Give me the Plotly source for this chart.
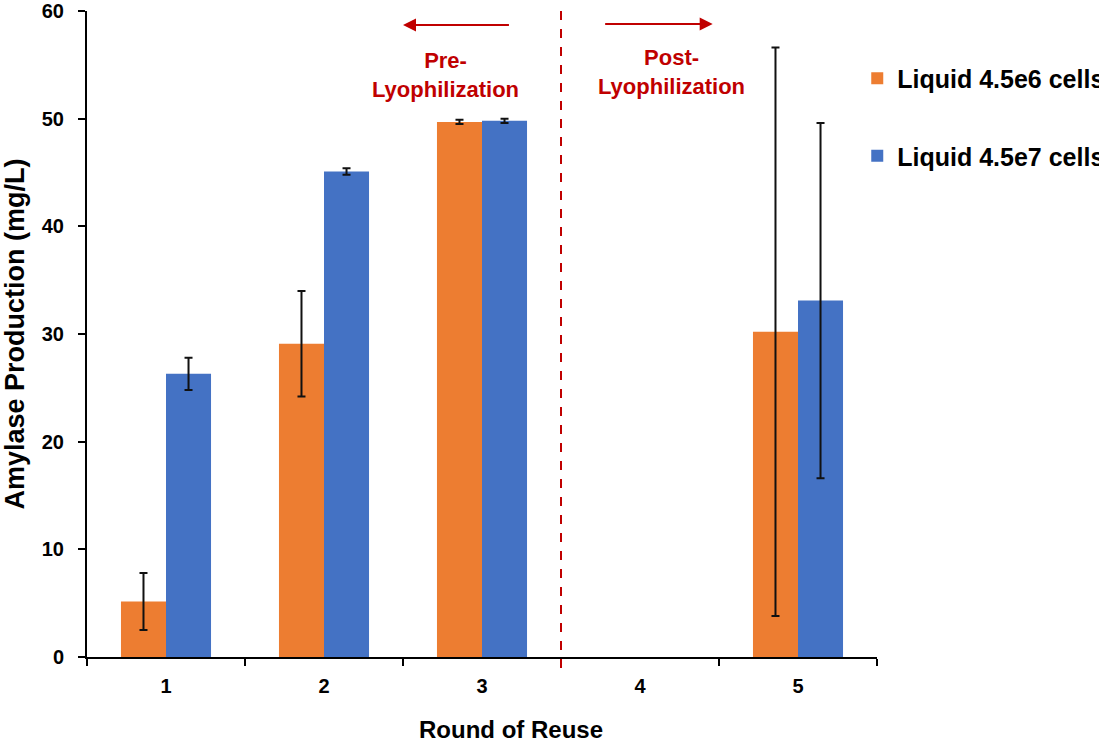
import plotly.graph_objects as go

rounds = ["1", "2", "3", "4", "5"]
low_name = "Liquid 4.5e6 cells/mL"
high_name = "Liquid 4.5e7 cells/mL"
low_values = [5.15, 29.1, 49.7, None, 30.2]
low_errors = [2.65, 4.9, 0.2, None, 26.4]
high_values = [26.3, 45.1, 49.8, None, 33.1]
high_errors = [1.5, 0.3, 0.2, None, 16.5]
lyophilized_after = "3"

FONT = "Arial, Liberation Sans, sans-serif"
RED = "#C00000"

fig = go.Figure()
fig.add_trace(go.Bar(
    x=rounds, y=low_values, name=low_name, legendgroup="a",
    marker=dict(color="#ED7D31", line=dict(width=0)),
    error_y=dict(type="data", array=low_errors, color="#111111", thickness=2, width=4),
))
fig.add_trace(go.Bar(
    x=rounds, y=high_values, name=high_name, legendgroup="b",
    marker=dict(color="#4472C4", line=dict(width=0)),
    error_y=dict(type="data", array=high_errors, color="#111111", thickness=2, width=4),
))

split = rounds.index(lyophilized_after) + 0.5
fig.add_shape(type="line", xref="x", yref="paper", x0=split, x1=split, y0=-0.017, y1=1.012,
              line=dict(color=RED, width=2, dash="dash"))

# arrows
fig.add_annotation(x=split - 1.0, y=58.7, ax=split - 0.32, ay=58.7, xref="x", yref="y",
                   axref="x", ayref="y", text="", showarrow=True, arrowhead=2,
                   arrowsize=1.3, arrowwidth=2, arrowcolor=RED)
fig.add_annotation(x=split + 0.96, y=58.8, ax=split + 0.27, ay=58.8, xref="x", yref="y",
                   axref="x", ayref="y", text="", showarrow=True, arrowhead=2,
                   arrowsize=1.3, arrowwidth=2, arrowcolor=RED)
fig.add_annotation(x=split - 0.734, y=54.1, xref="x", yref="y", text="<b>Pre-<br>Lyophilization</b>",
                   showarrow=False, font=dict(family=FONT, size=22, color=RED))
fig.add_annotation(x=split + 0.70, y=54.3, xref="x", yref="y", text="<b>Post-<br>Lyophilization</b>",
                   showarrow=False, font=dict(family=FONT, size=22, color=RED))

# x-axis title (offset to the right as in the original)
fig.add_annotation(x=0.537, y=-0.113, xref="paper", yref="paper", xanchor="center", yanchor="middle",
                   text="<b>Round of Reuse</b>",
                   showarrow=False, font=dict(family=FONT, size=24, color="black"))

fig.update_layout(
    width=1099, height=742,
    margin=dict(l=87, r=222, t=11, b=85, autoexpand=False),
    paper_bgcolor="white", plot_bgcolor="white",
    barmode="group", bargap=0.43, bargroupgap=0,
    font=dict(family=FONT, color="black"),
    legend=dict(x=0.975, xanchor="left", y=0.931, yanchor="top",
                font=dict(family=FONT, size=25, color="black", weight="bold"),
                tracegroupgap=42, bgcolor="rgba(0,0,0,0)"),
    xaxis=dict(
        type="category", categoryorder="array", categoryarray=rounds,
        showline=True, linecolor="black", linewidth=2,
        ticks="outside", tickson="boundaries", ticklen=7, tickwidth=2, tickcolor="black",
        ticklabelstandoff=10,
        tickfont=dict(family=FONT, size=20, color="black", weight="bold"),
        showgrid=False, zeroline=False,
    ),
    yaxis=dict(
        range=[0, 60], dtick=10,
        showline=True, linecolor="black", linewidth=2,
        ticks="outside", ticklen=7, tickwidth=2, tickcolor="black",
        ticklabelstandoff=10,
        tickfont=dict(family=FONT, size=20, color="black", weight="bold"),
        title=dict(text="<b>Amylase Production (mg/L)</b>", font=dict(family=FONT, size=27, color="black"), standoff=9),
        showgrid=False, zeroline=False,
    ),
)

fig.write_html("out.html", config={"displayModeBar": False},
               post_script="document.body.style.margin='0';document.body.style.overflow='hidden';")
